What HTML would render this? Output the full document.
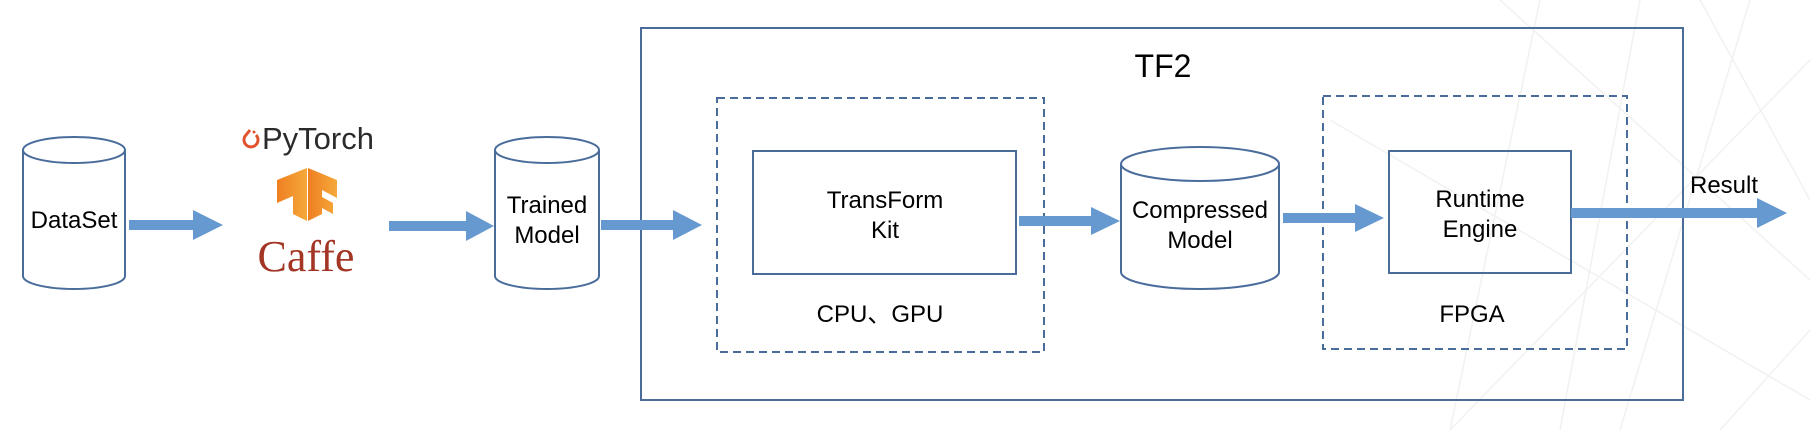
<!DOCTYPE html>
<html><head><meta charset="utf-8"><style>
html,body{margin:0;padding:0;background:#fff;}
svg{display:block;}
text{font-family:"Liberation Sans","Noto Sans CJK SC",sans-serif;fill:#000;}
</style></head><body>
<svg width="1810" height="430" viewBox="0 0 1810 430" xmlns="http://www.w3.org/2000/svg">
<defs>
<linearGradient id="tf" x1="0" x2="1" y1="0" y2="0"><stop offset="0" stop-color="#ef7f22"/><stop offset="1" stop-color="#f5a93a"/></linearGradient>
</defs>
<g stroke="#ececec" stroke-width="1.5" fill="none" opacity="0.7">
<line x1="1500" y1="0" x2="1810" y2="280"/><line x1="1640" y1="0" x2="1560" y2="430"/>
<line x1="1700" y1="0" x2="1810" y2="200"/><line x1="1450" y1="430" x2="1810" y2="60"/>
<line x1="1620" y1="430" x2="1750" y2="0"/><line x1="1330" y1="120" x2="1810" y2="400"/>
<line x1="1720" y1="430" x2="1810" y2="330"/><line x1="1540" y1="0" x2="1450" y2="430"/>
</g>
<g fill="none" stroke="#4a6c9b" stroke-width="2">
<path d="M23,150 L23,276 A51,13 0 0 0 125,276 L125,150"/>
<ellipse cx="74" cy="150" rx="51" ry="13" fill="#fff"/>
<path d="M495,150 L495,276 A52,13 0 0 0 599,276 L599,150"/>
<ellipse cx="547" cy="150" rx="52" ry="13" fill="#fff"/>
<path d="M1121,164 L1121,272 A79,17 0 0 0 1279,272 L1279,164"/>
<ellipse cx="1200" cy="164" rx="79" ry="17" fill="#fff"/>
<rect x="641" y="28" width="1042" height="372"/>
<rect x="717" y="98" width="327" height="254" stroke-dasharray="8,5"/>
<rect x="1323" y="96" width="304" height="253" stroke-dasharray="8,5"/>
<rect x="753" y="151" width="263" height="123"/>
<rect x="1389" y="151" width="182" height="122"/>
</g>
<g fill="#6699cf">
<path d="M129,220 H193 V210 L223,225 L193,240 V230 H129 Z"/>
<path d="M389,221 H466 V211 L494,226 L466,241 V231 H389 Z"/>
<path d="M601,220 H673 V210 L702,225 L673,240 V230 H601 Z"/>
<path d="M1019,216 H1091 V207 L1120,221 L1091,235 V226 H1019 Z"/>
<path d="M1283,213 H1355 V204 L1384,218 L1355,232 V223 H1283 Z"/>
<path d="M1571,208 H1757 V198 L1787,213 L1757,228 V218 H1571 Z"/>
</g>
<g fill="none" stroke="#e0532e" stroke-width="3">
<path d="M250,130 L246,135 A7,7 0 1 0 256,135"/>
</g>
<circle cx="254" cy="132" r="1.5" fill="#e0532e"/>
<text x="262" y="149" font-size="31" style="fill:#2b2b2b">PyTorch</text>
<g fill="url(#tf)">
<polygon points="277,180 307,168 307,221 293,214 293,196 277,203"/>
<polygon points="308,168 337,180 337,198 322,190 322,197 333,203 333,214 322,208 322,214 308,221"/>
</g>
<text x="306" y="271" font-size="44" text-anchor="middle" style="fill:#a33524;font-family:'Liberation Serif',serif">Caffe</text>
<g font-size="24" text-anchor="middle">
<text x="74" y="228">DataSet</text>
<text x="547" y="213">Trained</text>
<text x="547" y="243">Model</text>
<text x="1163" y="77" font-size="32">TF2</text>
<text x="885" y="208">TransForm</text>
<text x="885" y="238">Kit</text>
<text x="880" y="322">CPU、GPU</text>
<text x="1200" y="218">Compressed</text>
<text x="1200" y="248">Model</text>
<text x="1480" y="207">Runtime</text>
<text x="1480" y="237">Engine</text>
<text x="1472" y="322">FPGA</text>
<text x="1724" y="193">Result</text>
</g>
</svg>
</body></html>
